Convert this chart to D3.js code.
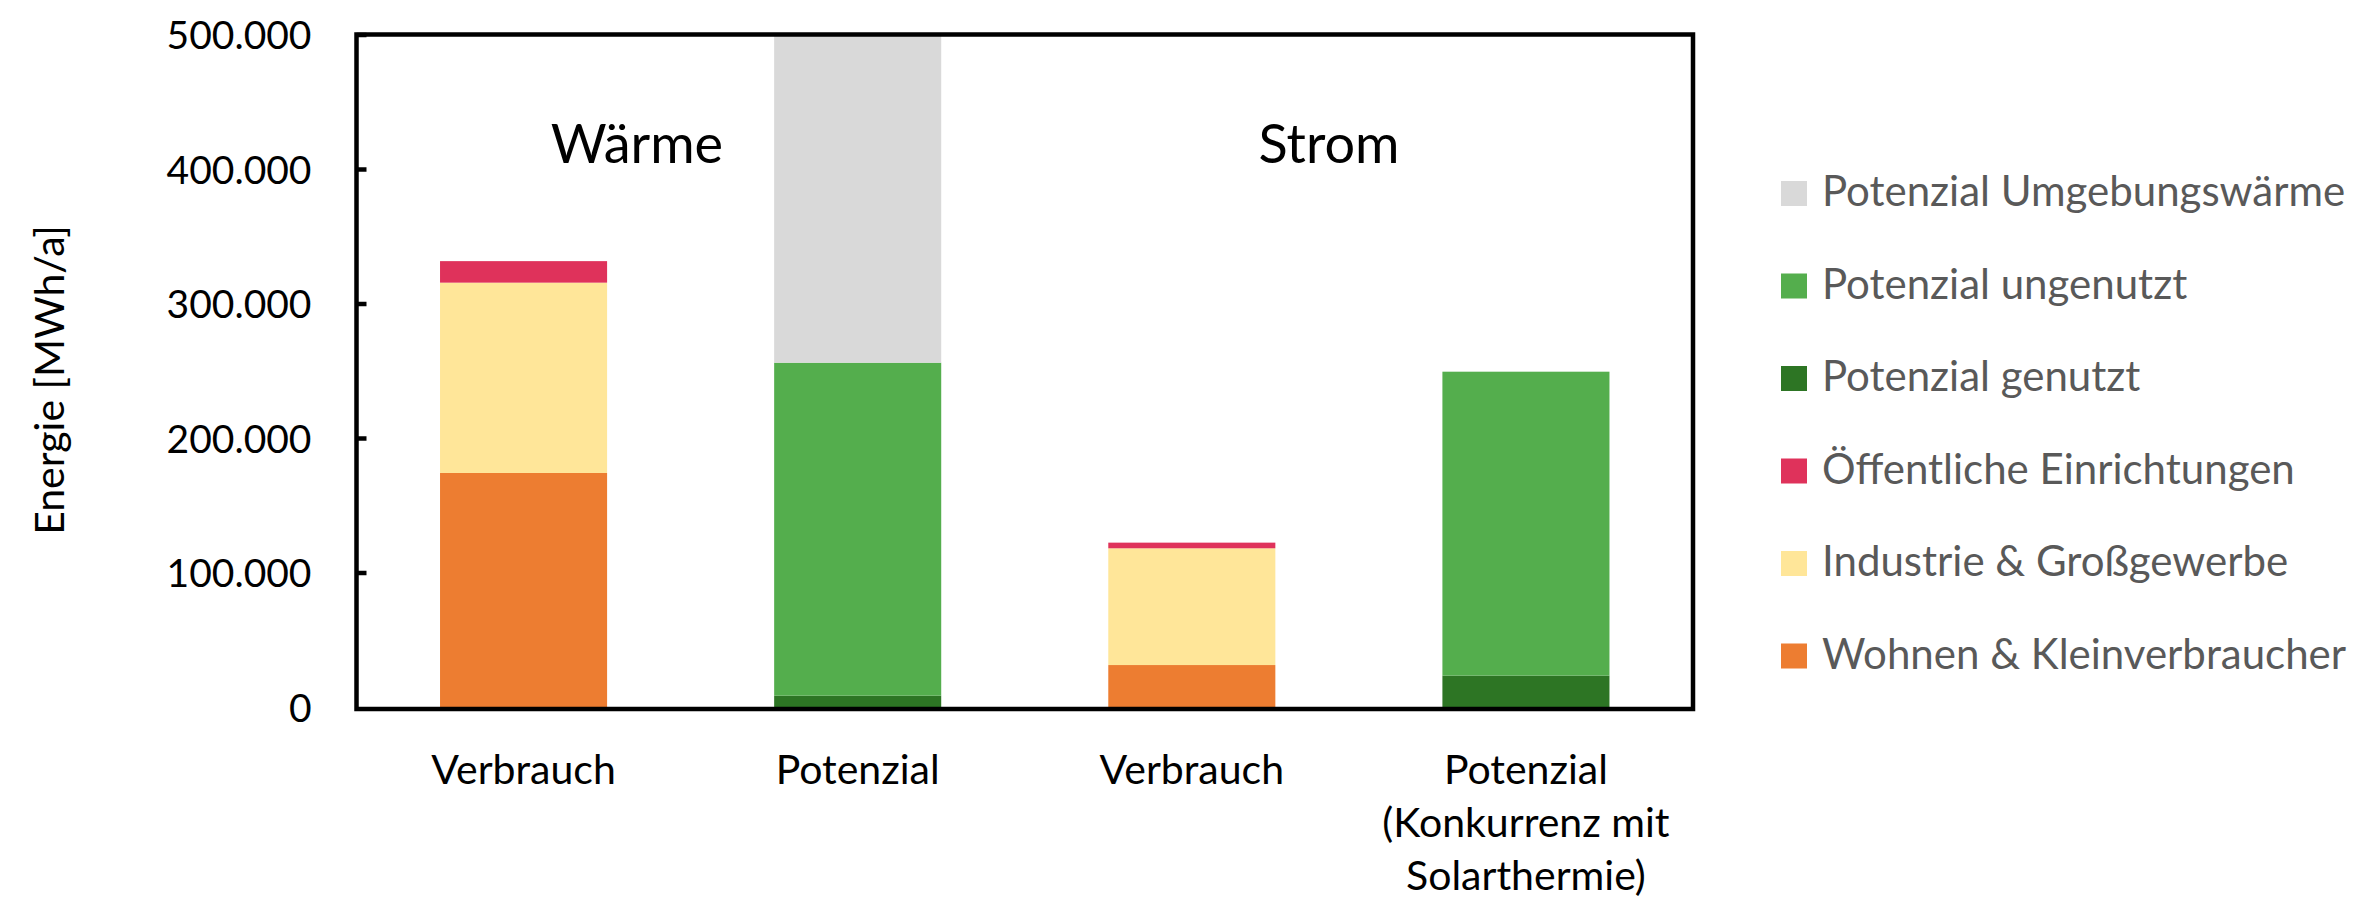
<!DOCTYPE html>
<html>
<head>
<meta charset="utf-8">
<script src="https://cdn.jsdelivr.net/npm/d3@7"></script>
<style>
   body { margin: 0; background: white; }
   text { font-family: Lato, "Open Sans", sans-serif; }
</style>
</head>
<body>
<div id="chart"></div>
<script>
// categories on the x axis (lines of each label)
var categories = [
   ["Verbrauch"],
   ["Potenzial"],
   ["Verbrauch"],
   ["Potenzial", "(Konkurrenz mit", "Solarthermie)"]
]
var categoryKeys = ["w_verbrauch", "w_potenzial", "s_verbrauch", "s_potenzial"]

// series, stacked from bottom to top
var seriesNames = [
   "Wohnen & Kleinverbraucher",
   "Industrie & Großgewerbe",
   "Öffentliche Einrichtungen",
   "Potenzial genutzt",
   "Potenzial ungenutzt",
   "Potenzial Umgebungswärme"
]
var seriesColors = ["#ED7D31", "#FFE699", "#DF325B", "#2D7524", "#54AE4D", "#D9D9D9"]

// values per category, MWh/a
var wohnen       = [174000,      0, 31200,      0]
var industrie    = [141500,      0, 86800,      0]
var oeffentlich  = [ 16000,      0,  4200,      0]
var genutzt      = [     0,   8400,     0,  23300]
var ungenutzt    = [     0, 247600,     0, 226000]
var umgebung     = [     0, 244000,     0,      0]

var yTicks = [0, 100000, 200000, 300000, 400000, 500000]
var groupLabels = ["Wärme", "Strom"]

var svgWidth  = 2360
var svgHeight = 902
var plot = {left: 356.5, right: 1693, top: 34.5, bottom: 707}

// build the table for d3.stack
var seriesValues = [wohnen, industrie, oeffentlich, genutzt, ungenutzt, umgebung]
var table = categoryKeys.map(function(k, i){
   var row = {key: k}
   seriesNames.forEach(function(s, j){ row[s] = seriesValues[j][i] })
   return row
})
var stacked = d3.stack().keys(seriesNames)(table)

// german number format: 100.000
var de = d3.formatLocale({decimal: ",", thousands: ".", grouping: [3], currency: ["", " €"]})
var fmt = de.format(",")

var x = d3.scaleBand()
.domain(categoryKeys)
.range([plot.left, plot.right])
.paddingInner(0.5)
.paddingOuter(0.25)

var y = d3.scaleLinear()
.domain([0, 500000])
.range([plot.bottom, plot.top])

var svg = d3.select("#chart")
.append("svg")
.attr("width", svgWidth)
.attr("height", svgHeight)

svg.append("rect")
.attr("width", svgWidth)
.attr("height", svgHeight)
.attr("fill", "white")

// bars
svg.selectAll("g.series")
.data(stacked)
.enter()
.append("g")
.attr("class", "series")
.attr("fill", function(d, i){ return seriesColors[i] })
.selectAll("rect")
.data(function(d){ return d.filter(function(p){ return p[1] > p[0] }) })
.enter()
.append("rect")
.attr("x", function(d){ return x(d.data.key) })
.attr("width", x.bandwidth())
.attr("y", function(d){ return y(d[1]) })
.attr("height", function(d){ return y(d[0]) - y(d[1]) })

// frame
svg.append("rect")
.attr("x", plot.left)
.attr("y", plot.top)
.attr("width", plot.right - plot.left)
.attr("height", y(0) + 2 - plot.top)
.attr("fill", "none")
.attr("stroke", "black")
.attr("stroke-width", 4.5)

// y axis with inward ticks
var yAxis = d3.axisLeft(y)
.tickValues(yTicks)
.tickSize(-10)
.tickPadding(45)
.tickFormat(fmt)

var gy = svg.append("g")
.attr("transform", "translate(" + plot.left + ",0)")
.call(yAxis)
gy.select(".domain").remove()
gy.selectAll(".tick line")
.attr("stroke", "black")
.attr("stroke-width", 4.5)
gy.selectAll(".tick")
.filter(function(d){ return d == 0 })
.select("line")
.remove()
gy.selectAll(".tick text")
.attr("font-size", 39)
.attr("fill", "black")
.attr("dy", "0.36em")
.style("font-family", "Lato, sans-serif")

// y axis title
svg.append("text")
.attr("transform", "translate(64,380) rotate(-90)")
.attr("text-anchor", "middle")
.attr("font-size", 41)
.attr("fill", "black")
.text("Energie [MWh/a]")

// x labels
var xl = svg.selectAll("text.xlabel")
.data(categories)
.enter()
.append("text")
.attr("class", "xlabel")
.attr("text-anchor", "middle")
.attr("font-size", 41)
.attr("fill", "black")
.attr("x", function(d, i){ return x(categoryKeys[i]) + x.bandwidth() / 2 })
.attr("y", 784)
xl.selectAll("tspan")
.data(function(d){ return d })
.enter()
.append("tspan")
.attr("x", function(){ return d3.select(this.parentNode).attr("x") })
.attr("dy", function(d, i){ return i == 0 ? 0 : 53 })
.text(function(d){ return d })

// group labels Wärme / Strom
svg.selectAll("text.group")
.data(groupLabels)
.enter()
.append("text")
.attr("class", "group")
.attr("text-anchor", "middle")
.attr("font-size", 54)
.attr("fill", "black")
.attr("x", function(d, i){ return i == 0 ? 637 : 1329 })
.attr("y", 163)
.text(function(d){ return d })

// legend, top entry is the top series
var legendOrder = seriesNames.slice().reverse()
var legendColors = seriesColors.slice().reverse()
var lg = svg.selectAll("g.legend")
.data(legendOrder)
.enter()
.append("g")
.attr("class", "legend")
.attr("transform", function(d, i){ return "translate(1781," + (193.5 + i * 92.5) + ")" })

lg.append("rect")
.attr("x", 0)
.attr("y", -12.5)
.attr("width", 26)
.attr("height", 25)
.attr("fill", function(d, i){ return legendColors[i] })

lg.append("text")
.attr("x", 41)
.attr("y", 12.5)
.attr("font-size", 42)
.attr("fill", "#595959")
.text(function(d){ return d })
</script>
</body>
</html>
